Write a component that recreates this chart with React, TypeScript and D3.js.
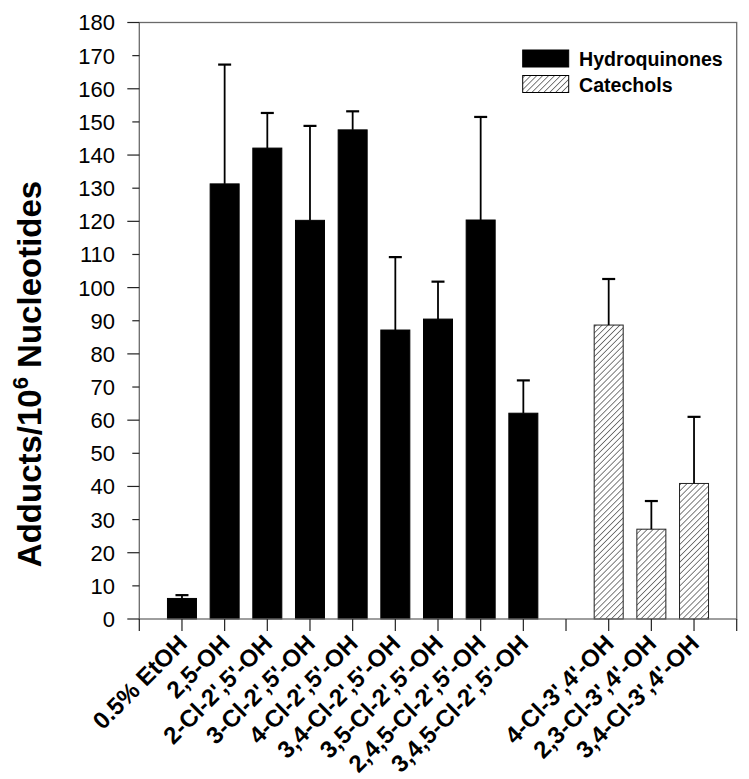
import React from "react";
import * as d3 from "d3";

const categories: string[] = [
  "0.5% EtOH",
  "2,5-OH",
  "2-Cl-2',5'-OH",
  "3-Cl-2',5'-OH",
  "4-Cl-2',5'-OH",
  "3,4-Cl-2',5'-OH",
  "3,5-Cl-2',5'-OH",
  "2,4,5-Cl-2',5'-OH",
  "3,4,5-Cl-2',5'-OH",
  "",
  "4-Cl-3',4'-OH",
  "2,3-Cl-3',4'-OH",
  "3,4-Cl-3',4'-OH",
];
const groups: (string | null)[] = [
  "Hydroquinones", "Hydroquinones", "Hydroquinones", "Hydroquinones", "Hydroquinones",
  "Hydroquinones", "Hydroquinones", "Hydroquinones", "Hydroquinones",
  null,
  "Catechols", "Catechols", "Catechols",
];
const means: (number | null)[] = [6.2, 131.3, 142.1, 120.3, 147.6, 87.2, 90.5, 120.4, 62.1, null, 88.7, 27.1, 40.9];
const errors: (number | null)[] = [1.0, 36.0, 10.6, 28.5, 5.6, 22.0, 11.3, 31.1, 9.9, null, 13.9, 8.5, 20.1];
const yTicks: number[] = [0, 10, 20, 30, 40, 50, 60, 70, 80, 90, 100, 110, 120, 130, 140, 150, 160, 170, 180];
const legendItems: string[] = ["Hydroquinones", "Catechols"];

const FONT = "'Liberation Sans', Arial, Helvetica, sans-serif";

export default function App() {
  const W = 749;
  const H = 779;
  const left = 139.3;
  const right = 736.7;
  const top = 22.5;
  const bottom = 619;
  const x = d3.scaleLinear().domain([0, categories.length + 1]).range([left, right]);
  const y = d3.scaleLinear().domain([0, 180]).range([bottom, top]);
  const barW = 29;
  const capW = 13;
  const xTicks = d3.range(0, categories.length + 2);
  const frameColor = "#6a6a6a";

  return (
    <svg
      width={W}
      height={H}
      style={{ position: "absolute", left: 0, top: 0, background: "#fff" }}
      fontFamily={FONT}
    >
      <defs>
        <pattern id="hatch" patternUnits="userSpaceOnUse" width={4.2} height={4.2} patternTransform="rotate(45)">
          <rect width={4.2} height={4.2} fill="#fff" />
          <line x1={0} y1={0} x2={0} y2={4.2} stroke="#000" strokeWidth={1} />
        </pattern>
      </defs>

      {/* bars */}
      {categories.map((c, i) => {
        const m = means[i];
        if (m == null) return null;
        const cx = x(i + 1);
        const isCat = groups[i] === "Catechols";
        return (
          <rect
            key={"b" + i}
            x={cx - barW / 2}
            y={y(m)}
            width={barW}
            height={y(0) - y(m)}
            fill={isCat ? "url(#hatch)" : "#000"}
            stroke={isCat ? "#222" : "#000"}
            strokeWidth={1}
          />
        );
      })}

      {/* error bars */}
      {categories.map((c, i) => {
        const m = means[i];
        const e = errors[i];
        if (m == null || e == null) return null;
        const cx = x(i + 1);
        return (
          <g key={"e" + i} stroke="#000" strokeWidth={1.8}>
            <line x1={cx} x2={cx} y1={y(m)} y2={y(m + e)} />
            <line x1={cx - capW / 2} x2={cx + capW / 2} y1={y(m + e)} y2={y(m + e)} strokeWidth={2.2} />
          </g>
        );
      })}

      {/* frame */}
      <rect x={left} y={top} width={right - left} height={bottom - top} fill="none" stroke={frameColor} strokeWidth={1.3} />

      {/* y ticks */}
      {yTicks.map((t) => (
        <g key={"yt" + t}>
          <line
            x1={t % 20 === 0 ? left - 12 : left - 7}
            x2={left}
            y1={y(t)}
            y2={y(t)}
            stroke="#222"
            strokeWidth={1.2}
          />
          <text x={115} y={y(t)} dy="0.36em" textAnchor="end" fontSize={22} fill="#000">
            {t}
          </text>
        </g>
      ))}

      {/* x ticks */}
      {xTicks.map((t) => (
        <line key={"xt" + t} x1={x(t)} x2={x(t)} y1={bottom} y2={bottom + 12} stroke="#222" strokeWidth={1.2} />
      ))}

      {/* x labels */}
      {categories.map((c, i) => {
        if (!c) return null;
        const px = x(i + 1) + 6.5;
        const py = 645;
        return (
          <text
            key={"xl" + i}
            transform={`translate(${px},${py}) rotate(-45)`}
            textAnchor="end"
            fontSize={24}
            fontWeight="bold"
            fill="#000"
          >
            {c}
          </text>
        );
      })}

      {/* y title */}
      <text
        transform="translate(41,374) rotate(-90)"
        textAnchor="middle"
        fontSize={33}
        fontWeight="bold"
        fill="#000"
      >
        Adducts/10
        <tspan fontSize={22} dy={-13}>6</tspan>
        <tspan dy={13}>{" Nucleotides"}</tspan>
      </text>

      {/* legend */}
      {legendItems.map((g, i) => {
        const ly = 50 + i * 25.5;
        return (
          <g key={"lg" + i}>
            <rect
              x={522.7}
              y={ly}
              width={46}
              height={17}
              fill={g === "Catechols" ? "url(#hatch)" : "#000"}
              stroke="#000"
              strokeWidth={1}
            />
            <text x={579} y={ly + 16} fontSize={19.6} fontWeight="bold" fill="#000">
              {g}
            </text>
          </g>
        );
      })}
    </svg>
  );
}
